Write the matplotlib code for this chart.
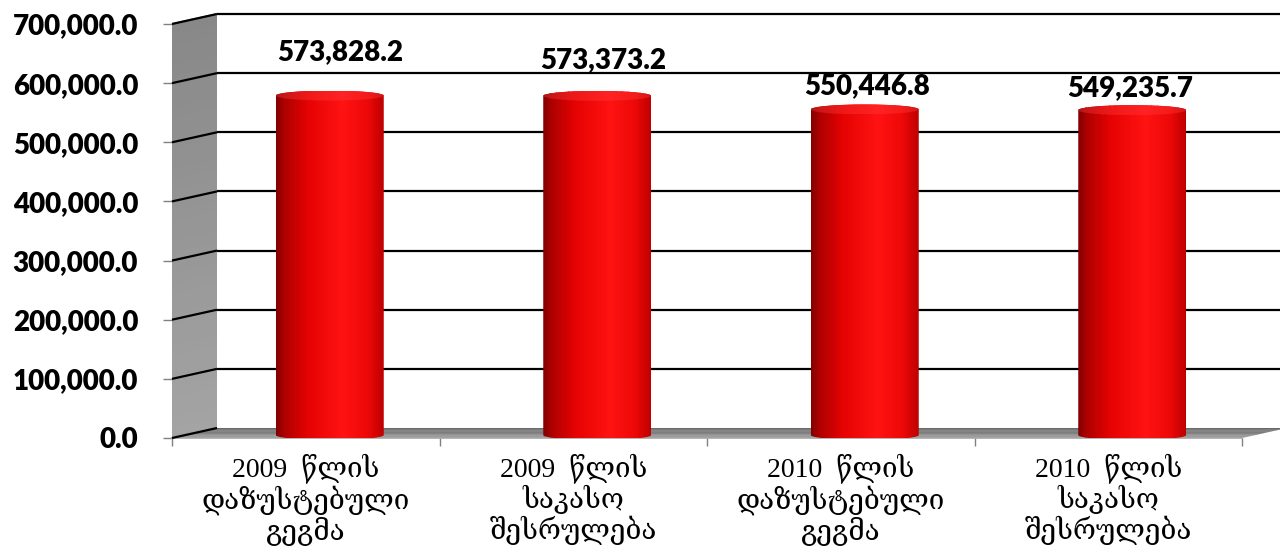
import numpy as np
import matplotlib
matplotlib.use("Agg")
import matplotlib.pyplot as plt
from matplotlib.patches import Polygon, Ellipse, PathPatch
from matplotlib.path import Path
from matplotlib.colors import to_rgb

# ---- data ----
categories = [
    "2009  წლის\nდაზუსტებული\nგეგმა",
    "2009  წლის\nსაკასო\nშესრულება",
    "2010  წლის\nდაზუსტებული\nგეგმა",
    "2010  წლის\nსაკასო\nშესრულება",
]
values = [573828.2, 573373.2, 550446.8, 549235.7]
y_ticks = [0, 100000, 200000, 300000, 400000, 500000, 600000, 700000]
y_max = 700000

# ---- styling ----
LABEL_FONT = ["Lato", "DejaVu Sans"]
LABEL_WEIGHT = "heavy"
CAT_FONT = ["Liberation Serif", "DejaVu Serif", "DejaVu Sans"]
# label offsets (pixels) from the top of each cylinder
label_dx_px = [10, 6, 2, -2]
label_dy_px = [38, 31, 18, 17]

W, H = 1280, 554
fig = plt.figure(figsize=(W / 100, H / 100), dpi=100)
fig.patch.set_facecolor("white")

# front plane of the 3-D box, in pixels (measured from the top edge)
L, R, B, T = 172, 1242, 438, 24
ax = fig.add_axes([L / W, (H - B) / H, (R - L) / W, (B - T) / H])
n_cat = len(values)
ax.set_xlim(0, n_cat)
ax.set_ylim(0, y_max)
ax.patch.set_visible(False)
for s in ax.spines.values():
    s.set_visible(False)

ux = n_cat / (R - L)      # data units per pixel (x)
uy = y_max / (B - T)      # data units per pixel (y)
DX, DY = 45 * ux, 10 * uy  # depth of the box


def mix(c1, c2, f):
    c1, c2 = np.array(to_rgb(c1)), np.array(to_rgb(c2))
    return tuple(c1 + (c2 - c1) * f)


# side wall (vertical gradient)
n = 40
for j in range(n):
    y0, y1 = y_max * j / n, y_max * (j + 1) / n
    col = mix("#a4a4a4", "#888888", (j + 0.5) / n)
    ax.add_patch(Polygon([(0, y0), (DX, y0 + DY), (DX, y1 + DY + uy), (0, y1 + uy)],
                         closed=True, fc=col, ec="none", clip_on=False, zorder=1))

# floor (gradient from front to back)
n = 12
for k in range(n):
    f0, f1 = k / n, (k + 1) / n
    col = mix("#8a8a8a", "#4e4e4e", (k + 0.5) / n)
    ax.add_patch(Polygon([(f0 * DX, f0 * DY), (n_cat + f0 * DX, f0 * DY),
                          (n_cat + f1 * DX, f1 * DY), (f1 * DX, f1 * DY)],
                         closed=True, fc=col, ec="none", clip_on=False, zorder=1))
ax.plot([0, n_cat], [0, 0], color="#a8a8a8", lw=1.2, clip_on=False, zorder=2)

# gridlines on side wall and back wall
for v in y_ticks:
    ax.plot([0, DX], [v, v + DY], color="black", lw=1.6, clip_on=False, zorder=2,
            solid_capstyle="butt")
    if v > 0:
        ax.plot([DX, n_cat + DX + 0.2], [v + DY, v + DY], color="black", lw=1.6,
                clip_on=False, zorder=2, solid_capstyle="butt")

# ---- cylinders ----
bar_dx, bar_dy = 24 * ux, 3 * uy
bw = 108 * ux
a = bw / 2
b = 5 * uy
N = 90
t = (np.arange(N) + 0.5) / N
ts = [0.0, 0.08, 0.3, 0.62, 0.85, 1.0]
rr = [0.50, 0.68, 0.90, 1.00, 0.93, 0.74]
gg = [0.00, 0.00, 0.01, 0.07, 0.03, 0.00]
body_cols = [(np.interp(x, ts, rr), np.interp(x, ts, gg), np.interp(x, ts, gg)) for x in t]
top_cols = [mix(c, "#ff4040", 0.35) for c in body_cols]

for i, v in enumerate(values):
    cx = i + 0.5 + bar_dx
    y0 = bar_dy
    y1 = v + bar_dy
    th = np.linspace(np.pi, 2 * np.pi, 60)
    bottom = np.column_stack([cx + a * np.cos(th), y0 + b * np.sin(th)])
    th2 = np.linspace(0, np.pi, 60)
    top = np.column_stack([cx + a * np.cos(th2), y1 + b * np.sin(th2)])
    verts = np.vstack([bottom, top, bottom[:1]])
    clip = PathPatch(Path(verts, closed=True), transform=ax.transData,
                     fc="none", ec="none")
    ax.add_patch(clip)
    lefts = cx - a + np.arange(N) * bw / N
    strips = ax.bar(lefts, y1 - y0 + 2 * b, width=bw / N * 1.05, bottom=y0 - b,
                    align="edge", color=body_cols, linewidth=0, zorder=3)
    for s in strips:
        s.set_clip_path(clip)

    ell = Ellipse((cx, y1), 2 * a, 2 * b, transform=ax.transData, fc="none", ec="none")
    ax.add_patch(ell)
    tstrips = ax.bar(lefts, 2 * b, width=bw / N * 1.05, bottom=y1 - b,
                     align="edge", color=top_cols, linewidth=0, zorder=4)
    for s in tstrips:
        s.set_clip_path(ell)

    ax.annotate(f"{v:,.1f}", xy=(cx, y1 + b), xytext=(label_dx_px[i], label_dy_px[i]),
                textcoords="offset pixels", ha="center", va="center",
                fontsize=20, fontweight=LABEL_WEIGHT, family=LABEL_FONT, color="black",
                zorder=6, annotation_clip=False)

# ---- axes ticks ----
ax.set_yticks(y_ticks)
ax.set_yticklabels([f"{v:,.1f}" for v in y_ticks], fontsize=20, fontweight=LABEL_WEIGHT,
                   family=LABEL_FONT)
ax.tick_params(axis="y", length=9 * 0.72, width=1, color="#808080", pad=25 * 0.72)

ax.set_xticks(range(n_cat + 1))
ax.set_xticklabels([])
ax.set_xticks([i + 0.5 for i in range(n_cat)], minor=True)
ax.set_xticklabels(categories, minor=True, fontsize=20, family=CAT_FONT,
                   linespacing=1.08)
ax.tick_params(axis="x", which="major", length=8 * 0.72, width=1, color="#808080",
               direction="out")
ax.tick_params(axis="x", which="minor", length=0, pad=11)

fig.savefig("out.png", dpi=100, facecolor="white")
